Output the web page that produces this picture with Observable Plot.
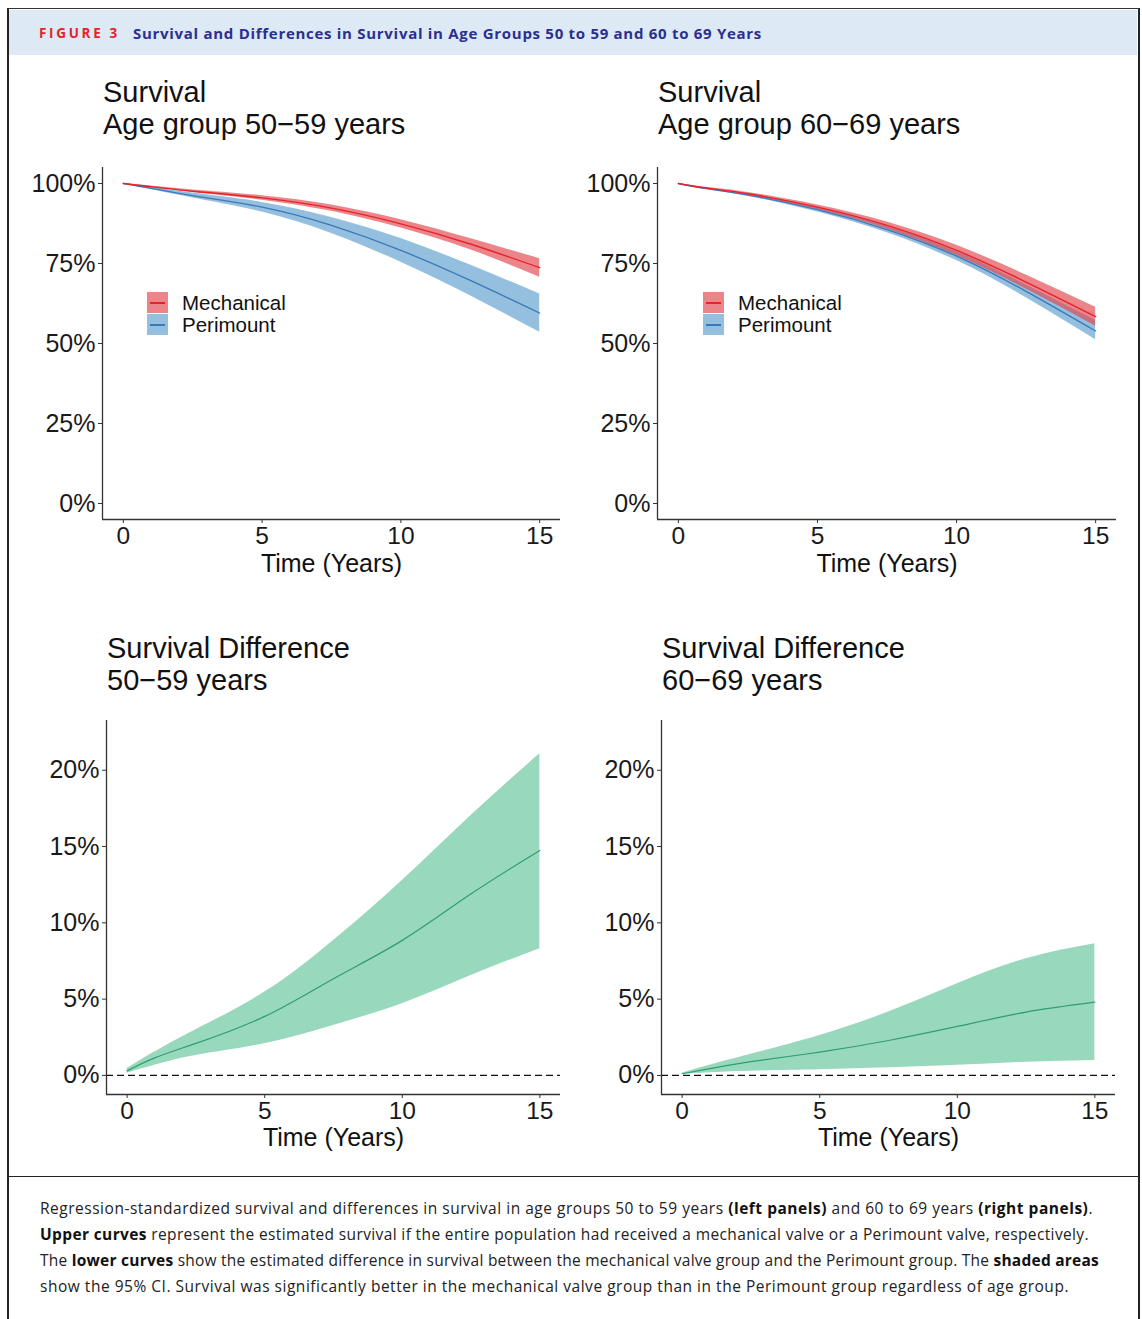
<!DOCTYPE html>
<html>
<head>
<meta charset="utf-8">
<script src="https://cdn.jsdelivr.net/npm/d3@7"></script>
<script src="https://cdn.jsdelivr.net/npm/@observablehq/plot@0.6"></script>
<style>
  html, body { margin: 0; padding: 0; background: #fff; }
  #page { position: relative; width: 1142px; height: 1319px; overflow: hidden; font-family: "Liberation Sans", Arial, sans-serif; }
  .frame { position: absolute; left: 7px; top: 8px; width: 1129px; height: 1330px; border: 2px solid #222; border-bottom: none; border-top: 1.5px solid #333; }
  .header { position: absolute; left: 9px; top: 10px; width: 1128px; height: 45px; background: #dde9f5; }
  .hdr { position: absolute; top: 24px; white-space: nowrap; font-family: "Open Sans", Lato, sans-serif; font-weight: bold; line-height: 18px; }
  .sep { position: absolute; left: 8px; top: 1176px; width: 1130px; height: 0; border-top: 1.5px solid #222; }
  .ptitle { position: absolute; font-size: 29px; line-height: 32px; color: #111; white-space: nowrap; }
  .panel { position: absolute; }
  .legend { position: absolute; font-size: 20.5px; color: #111; }
  .key { position: absolute; width: 21px; height: 21px; }
  .key i { position: absolute; left: 3px; right: 3px; top: 10px; height: 1.5px; }
  .ltext { position: absolute; white-space: nowrap; line-height: 22px; }
  .cap { position: absolute; left: 40px; white-space: nowrap; font-family: "Open Sans", Lato, sans-serif; font-size: 15.5px; line-height: 20px; color: #222; }
  .cap b { font-weight: bold; color: #111; }
</style>
</head>
<body>
<div id="page">
  <div class="header"></div>
  <div class="frame"></div>
  <div class="hdr fit" data-w="81" style="left:39px;color:#e3242b;font-size:13.5px;">FIGURE 3</div>
  <div class="hdr fit" data-w="629" style="left:133px;color:#2b2f8f;font-size:15px;">Survival and Differences in Survival in Age Groups 50 to 59 and 60 to 69 Years</div>

  <div class="ptitle" style="left:103px;top:76px;">Survival<br>Age group 50−59 years</div>
  <div class="ptitle" style="left:658px;top:76px;">Survival<br>Age group 60−69 years</div>
  <div class="ptitle" style="left:107px;top:632px;">Survival Difference<br>50−59 years</div>
  <div class="ptitle" style="left:662px;top:632px;">Survival Difference<br>60−69 years</div>

  <div id="tl" class="panel" style="left:10px;top:150px;"></div>
  <div id="tr" class="panel" style="left:565px;top:150px;"></div>
  <div id="bl" class="panel" style="left:10px;top:705px;"></div>
  <div id="br" class="panel" style="left:565px;top:705px;"></div>

  <div id="leg1" class="legend" style="left:147px;top:292px;"></div>
  <div id="leg2" class="legend" style="left:703px;top:292px;"></div>

  <div class="sep"></div>
  <div class="cap fit" data-w="1053" style="top:1198px;">Regression-standardized survival and differences in survival in age groups 50 to 59 years <b>(left panels)</b> and 60 to 69 years <b>(right panels)</b>.</div>
  <div class="cap fit" data-w="1049" style="top:1224px;"><b>Upper curves</b> represent the estimated survival if the entire population had received a mechanical valve or a Perimount valve, respectively.</div>
  <div class="cap fit" data-w="1059" style="top:1250px;">The <b>lower curves</b> show the estimated difference in survival between the mechanical valve group and the Perimount group. The <b>shaded areas</b></div>
  <div class="cap fit" data-w="1029" style="top:1276px;">show the 95% CI. Survival was significantly better in the mechanical valve group than in the Perimount group regardless of age group.</div>
</div>
<script>
// ---- data ----
const years = [0, 1, 2.5, 5, 7.5, 10, 12.5, 15];
const seriesNames = ["Mechanical", "Perimount"];
const survTicks = [0, 0.25, 0.5, 0.75, 1];
const diffTicks = [0, 0.05, 0.10, 0.15, 0.20];
const timeTicks = [0, 5, 10, 15];

// Age 50-59 survival
const mech5059 =   [1.0, 0.990, 0.976, 0.955, 0.923, 0.874, 0.811, 0.737];
const mech5059Lo = [1.0, 0.988, 0.972, 0.948, 0.913, 0.861, 0.793, 0.707];
const mech5059Hi = [1.0, 0.992, 0.980, 0.962, 0.933, 0.887, 0.828, 0.765];
const peri5059 =   [1.0, 0.985, 0.962, 0.926, 0.869, 0.791, 0.697, 0.595];
const peri5059Lo = [1.0, 0.981, 0.955, 0.911, 0.844, 0.754, 0.649, 0.535];
const peri5059Hi = [1.0, 0.989, 0.970, 0.941, 0.894, 0.828, 0.745, 0.655];

// Age 60-69 survival
const mech6069 =   [1.0, 0.986, 0.968, 0.926, 0.869, 0.791, 0.692, 0.584];
const mech6069Lo = [1.0, 0.984, 0.964, 0.919, 0.858, 0.775, 0.670, 0.554];
const mech6069Hi = [1.0, 0.988, 0.972, 0.933, 0.880, 0.807, 0.714, 0.613];
const peri6069 =   [1.0, 0.984, 0.964, 0.918, 0.856, 0.773, 0.663, 0.539];
const peri6069Lo = [1.0, 0.982, 0.960, 0.911, 0.846, 0.759, 0.643, 0.512];
const peri6069Hi = [1.0, 0.986, 0.968, 0.925, 0.866, 0.787, 0.683, 0.572];

// Survival differences
const diff5059 =   [0.003, 0.0115, 0.021, 0.0387, 0.0634, 0.0885, 0.119, 0.1474];
const diff5059Lo = [0.0015, 0.0066, 0.0131, 0.0208, 0.0328, 0.047, 0.0655, 0.083];
const diff5059Hi = [0.0045, 0.0153, 0.030, 0.0546, 0.0885, 0.1278, 0.1704, 0.2108];
const diff6069 =   [0.0011, 0.0044, 0.009, 0.0153, 0.0229, 0.0321, 0.0415, 0.048];
const diff6069Lo = [0.0008, 0.0018, 0.0028, 0.0037, 0.005, 0.0066, 0.0087, 0.0098];
const diff6069Hi = [0.0015, 0.0066, 0.0138, 0.0262, 0.0415, 0.0601, 0.0765, 0.0863];

// ---- styling ----
const COL = {
  Mechanical: {line: "#e8222b", fill: "#e0434c", op: 0.65},
  Perimount: {line: "#3a78b8", fill: "#3c8ac4", op: 0.55},
  diff: {line: "#2f9e6c", fill: "#98d9bd"}
};
const FONT = "'Liberation Sans', Arial, Helvetica, sans-serif";
const AX = "#333";
const CURVE = "natural";

function rows(est, lo, hi) {
  return years.map((t, i) => ({t, est: est[i], lo: lo[i], hi: hi[i]}));
}

function makePanel(id, opts) {
  const {mL, mR, mT, mB, width, height, yDomain, yTicks, marks, dyLabel} = opts;
  const xDomain = [-0.75, 15.75];
  const chart = Plot.plot({
    width, height,
    marginLeft: mL, marginRight: mR, marginTop: mT, marginBottom: mB,
    x: {domain: xDomain},
    y: {domain: yDomain},
    style: {fontFamily: FONT, fontSize: "25px", color: "#1a1a1a", background: "transparent", overflow: "visible"},
    marks: [
      ...marks,
      Plot.ruleX([xDomain[0]], {stroke: AX, strokeWidth: 1.3}),
      Plot.ruleY([yDomain[0]], {stroke: AX, strokeWidth: 1.3}),
      Plot.axisY(yTicks, {tickFormat: d3.format(".0%"), tickSize: 4, tickPadding: 3, fontSize: 25, label: null, stroke: AX}),
      Plot.axisX(timeTicks, {tickSize: 4, tickPadding: 3, fontSize: 24.5, label: null, stroke: AX}),
      Plot.text(["Time (Years)"], {text: d => d, frameAnchor: "bottom", lineAnchor: "middle", dy: dyLabel, fontSize: 25, fill: "#111"})
    ]
  });
  document.getElementById(id).appendChild(chart);
}

function survMarks(mEst, mLo, mHi, pEst, pLo, pHi) {
  const m = rows(mEst, mLo, mHi), p = rows(pEst, pLo, pHi);
  return [
    Plot.areaY(p, {x: "t", y1: "lo", y2: "hi", fill: COL.Perimount.fill, fillOpacity: COL.Perimount.op, curve: CURVE}),
    Plot.areaY(m, {x: "t", y1: "lo", y2: "hi", fill: COL.Mechanical.fill, fillOpacity: COL.Mechanical.op, curve: CURVE}),
    Plot.line(p, {x: "t", y: "est", stroke: COL.Perimount.line, strokeWidth: 1.3, curve: CURVE}),
    Plot.line(m, {x: "t", y: "est", stroke: COL.Mechanical.line, strokeWidth: 1.4, curve: CURVE})
  ];
}

function diffMarks(est, lo, hi) {
  const d = rows(est, lo, hi);
  return [
    Plot.areaY(d, {x: "t", y1: "lo", y2: "hi", fill: COL.diff.fill, curve: CURVE}),
    Plot.line(d, {x: "t", y: "est", stroke: COL.diff.line, strokeWidth: 1.2, curve: CURVE}),
    Plot.ruleY([0], {stroke: "#111", strokeWidth: 1.3, strokeDasharray: "7,4"})
  ];
}

const survY = [-0.05, 1.05];
const diffY = [-0.0125, 0.2326];

makePanel("tl", {width: 560, height: 440, mL: 92, mR: 10, mT: 17, mB: 71, yDomain: survY, yTicks: survTicks, dyLabel: 44,
  marks: survMarks(mech5059, mech5059Lo, mech5059Hi, peri5059, peri5059Lo, peri5059Hi)});
makePanel("tr", {width: 560, height: 440, mL: 92, mR: 9, mT: 17, mB: 71, yDomain: survY, yTicks: survTicks, dyLabel: 44,
  marks: survMarks(mech6069, mech6069Lo, mech6069Hi, peri6069, peri6069Lo, peri6069Hi)});
makePanel("bl", {width: 560, height: 455, mL: 96, mR: 10, mT: 15, mB: 66, yDomain: diffY, yTicks: diffTicks, dyLabel: 43,
  marks: diffMarks(diff5059, diff5059Lo, diff5059Hi)});
makePanel("br", {width: 560, height: 455, mL: 96, mR: 10, mT: 15, mB: 66, yDomain: diffY, yTicks: diffTicks, dyLabel: 43,
  marks: diffMarks(diff6069, diff6069Lo, diff6069Hi)});

// legends
function legend(id) {
  const el = document.getElementById(id);
  seriesNames.forEach((name, i) => {
    const c = COL[name];
    const key = document.createElement("div");
    key.className = "key";
    key.style.top = (i * 22) + "px";
    key.style.left = "0px";
    key.style.background = c.fill;
    key.style.opacity = c.op;
    el.appendChild(key);
    const line = document.createElement("div");
    line.className = "key";
    line.style.top = (i * 22) + "px";
    line.innerHTML = `<i style="background:${c.line}"></i>`;
    el.appendChild(line);
    const t = document.createElement("div");
    t.className = "ltext";
    t.style.left = "35px";
    t.style.top = (i * 22) + "px";
    t.textContent = name;
    el.appendChild(t);
  });
}
legend("leg1");
legend("leg2");

// fit header/caption line widths to the reference by letter spacing
document.querySelectorAll(".fit").forEach(el => {
  const target = +el.dataset.w;
  const w = el.getBoundingClientRect().width;
  const n = el.textContent.length;
  if (n > 1) el.style.letterSpacing = ((target - w) / n).toFixed(3) + "px";
});
</script>
</body>
</html>
